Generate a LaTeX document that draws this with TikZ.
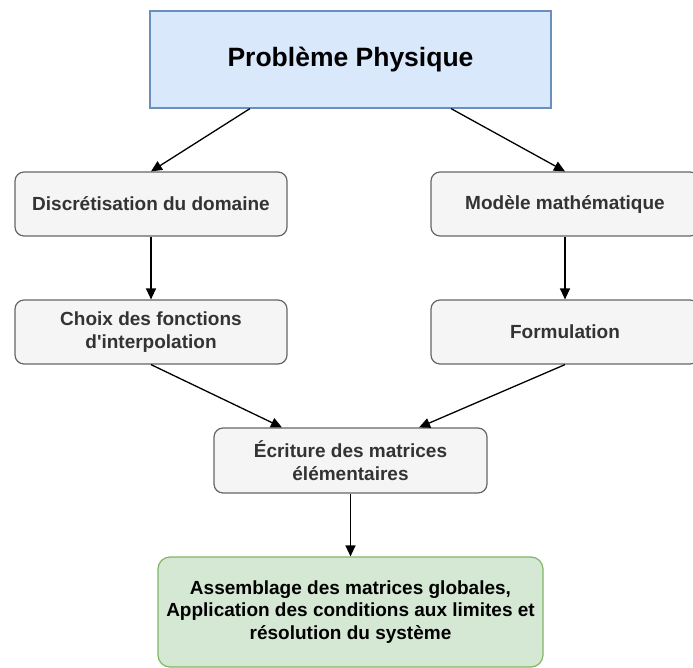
\documentclass[tikz,border=0pt]{standalone}
\usepackage{fontspec}
\setmainfont{Liberation Sans}
\usetikzlibrary{arrows.meta,calc}
\definecolor{topfill}{HTML}{DAE8FC}
\definecolor{topdraw}{HTML}{6C8EBF}
\definecolor{grayfill}{HTML}{F5F5F5}
\definecolor{graydraw}{HTML}{666666}
\definecolor{graytext}{HTML}{333333}
\definecolor{greenfill}{HTML}{D5E8D4}
\definecolor{greendraw}{HTML}{82B366}
\tikzset{
  graybox/.style={draw=graydraw, fill=grayfill, text=graytext, line width=1.2pt,
    rounded corners=9pt, minimum width=272pt, minimum height=64pt, align=center,
    inner sep=0pt, font=\fontsize{19}{22.5}\selectfont\bfseries},
  topbox/.style={draw=topdraw, fill=topfill, line width=1.2pt, minimum width=401pt,
    minimum height=97pt, inner sep=0pt, font=\fontsize{26.5}{30}\selectfont\bfseries},
  greenbox/.style={draw=greendraw, fill=greenfill, line width=1.2pt, rounded corners=12pt,
    minimum width=385pt, minimum height=110pt, align=center, inner sep=0pt,
    font=\fontsize{19}{22.5}\selectfont\bfseries},
  arr/.style={-{Triangle[length=11pt,width=10pt]}, line width=1.3pt, black},
}
\begin{document}
\begin{tikzpicture}[x=1pt,y=-1pt]
\useasboundingbox (0,0) rectangle (693,667);
\node[topbox] (top) at (350.5,59.5) {Problème Physique};
\node[graybox] (disc) at (151,204) {Discrétisation du domaine};
\node[graybox, minimum width=268pt] (model) at (565,204) {Modèle mathématique};
\node[graybox] (choix) at (151,332) {Choix des fonctions\\d\textquotesingle interpolation};
\node[graybox, minimum width=268pt] (form) at (565,332) {Formulation};
\node[graybox, minimum width=273pt, minimum height=65pt] (ecr) at (350.5,460.5) {Écriture des matrices\\élémentaires};
\node[greenbox] (fin) at (350.5,612) {Assemblage des matrices globales,\\Application des conditions aux limites et\\résolution du système};
\draw[arr] ($(top.south west)!0.25!(top.south east)$) -- (disc.north);
\draw[arr] ($(top.south west)!0.75!(top.south east)$) -- (model.north);
\draw[arr] (disc.south) -- (choix.north);
\draw[arr] (model.south) -- (form.north);
\draw[arr] (choix.south) -- ($(ecr.north west)!0.25!(ecr.north east)$);
\draw[arr] (form.south) -- ($(ecr.north west)!0.75!(ecr.north east)$);
\draw[arr] (ecr.south) -- (fin.north);
\end{tikzpicture}
\end{document}
